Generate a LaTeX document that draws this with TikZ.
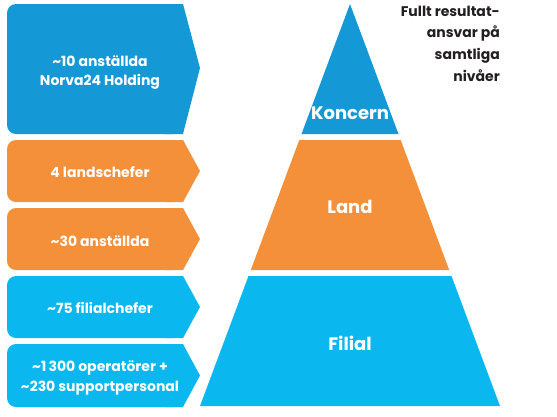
\documentclass[tikz,border=0pt]{standalone}
\usepackage{fontspec}
\setmainfont{Poppins}
\definecolor{dblue}{HTML}{1599D6}
\definecolor{lblue}{HTML}{0BB7EF}
\definecolor{orng}{HTML}{F5903A}
\definecolor{dtext}{HTML}{231F20}
\begin{document}
\begin{tikzpicture}[x=1pt,y=-1pt,
  boxtext/.style={text=white,font=\bfseries\fontsize{14}{19}\selectfont,align=center,inner sep=0pt},
  lvltext/.style={text=white,font=\bfseries\fontsize{18}{24}\selectfont,inner sep=0pt}]
\useasboundingbox (0,0) rectangle (557,416);
% arrow boxes
\newcommand{\arrbox}[4]{% color, top, bottom
  \fill[#1,rounded corners=9pt] (7,#2) rectangle (183,#3);
  \fill[#1] (165,#2) -- (183,#2) -- (200,#4) -- (183,#3) -- (165,#3) -- cycle;}
\arrbox{dblue}{4}{134}{68}
\arrbox{orng}{140}{202}{171}
\arrbox{orng}{208}{270}{239}
\arrbox{lblue}{276}{338}{307}
\arrbox{lblue}{344}{407}{375.5}
% pyramid
\fill[dblue] (350,4) -- (398.5,134) -- (301.5,134) -- cycle;
\fill[orng] (299.3,140) -- (400.7,140) -- (449.2,270) -- (250.8,270) -- cycle;
\fill[lblue] (248.5,276) -- (451.5,276) -- (500,406) -- (200,406) -- cycle;
% texts
\node[boxtext] (t1) at (100,72.5) {\char`\~10 anställda\\Norva24 Holding};
\node[boxtext] (t2) at (100,172) {4 landschefer};
\node[boxtext] (t3) at (100,241) {\char`\~30 anställda};
\node[boxtext] (t4) at (100,308) {\char`\~75 filialchefer};
\node[boxtext,font=\bfseries\fontsize{14}{20}\selectfont] (t5) at (100,377.5) {\char`\~1\,300 operatörer +\\\char`\~230 supportpersonal};
\node[lvltext] (koncern) at (350,113) {Koncern};
\node[lvltext] (land) at (350,207) {Land};
\node[lvltext] (filial) at (350,343) {Filial};
\node[anchor=north east,align=right,text=dtext,inner sep=0pt,
  font=\bfseries\fontsize{14}{21.7}\selectfont] (resp) at (500,5.5)
  {Fullt resultat-\\ansvar på\\samtliga\\nivåer};
\end{tikzpicture}
\end{document}
